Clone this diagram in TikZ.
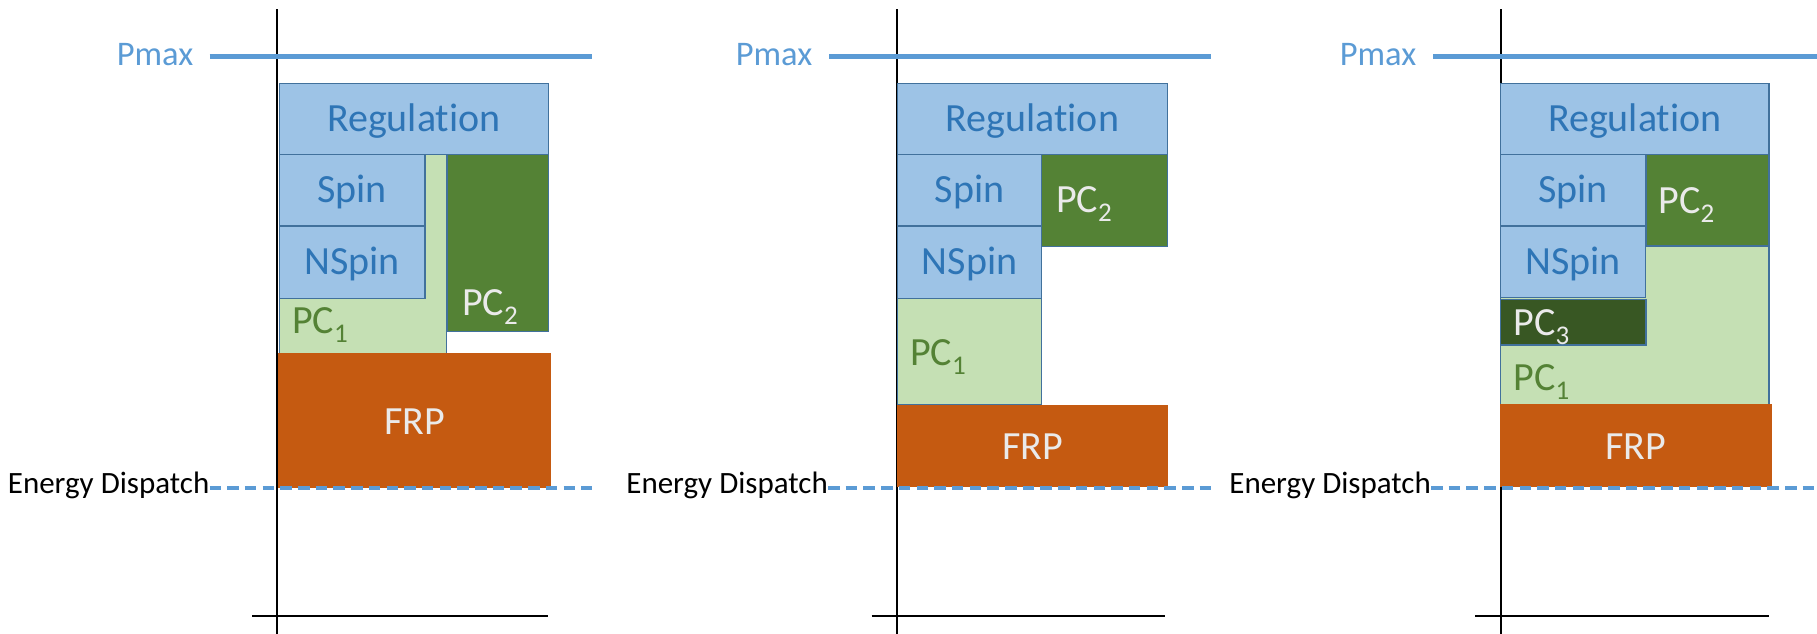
\documentclass[tikz,border=0pt]{standalone}
\usepackage{fontspec}
\setmainfont{Carlito}[Ligatures=NoCommon]
\definecolor{regfill}{HTML}{9DC3E6}
\definecolor{bordc}{HTML}{41719C}
\definecolor{bluetxt}{HTML}{2E75B6}
\definecolor{lgfill}{HTML}{C5E0B4}
\definecolor{dgfill}{HTML}{548235}
\definecolor{pcthree}{HTML}{385723}
\definecolor{frpfill}{HTML}{C55A11}
\definecolor{lighttxt}{HTML}{EAEAEA}
\definecolor{lineblue}{HTML}{5B9BD5}
\newcommand{\sbs}[1]{\raisebox{-0.22em}{\fontsize{27}{27}\selectfont #1}}
\begin{document}
\begin{tikzpicture}[x=1pt,y=-1pt,
  bluebox/.style={fill=regfill,draw=bordc,line width=1.3pt},
  lgbox/.style={fill=lgfill,draw=bordc,line width=1.3pt},
  dgbox/.style={fill=dgfill,draw=bordc,line width=1.3pt},
  pc3box/.style={fill=pcthree,draw=bordc,line width=1.3pt},
  frpbox/.style={fill=frpfill},
  lbl/.style={inner sep=0pt,font=\fontsize{40}{42}\selectfont},
  bluelbl/.style={lbl,text=bluetxt,anchor=base},
  lglbl/.style={lbl,text=dgfill,anchor=base west},
  dglbl/.style={lbl,text=lighttxt,anchor=base west},
  frplbl/.style={lbl,text=lighttxt,anchor=base},
  pmaxlbl/.style={inner sep=0pt,font=\fontsize{34.5}{36}\selectfont,text=lineblue,anchor=base east},
  edlbl/.style={inner sep=0pt,font=\fontsize{31}{33}\selectfont,text=black,anchor=base east},
  pmaxline/.style={draw=lineblue,line width=5pt},
  edline/.style={draw=lineblue,line width=3.8pt,dash pattern=on 11.5pt off 6.2pt},
  axisline/.style={draw=black,line width=1.8pt}]
\useasboundingbox (0,0) rectangle (1817,634);

% ---------------- Panel 1 (axis x = 277) ----------------
\coordinate (a1t) at (277,9.3);
\coordinate (a1b) at (277,634);
\coordinate (h1l) at (252,615.7);
\coordinate (h1r) at (548,615.7);
\draw[axisline] (a1t) -- (a1b);
\draw[axisline] (h1l) -- (h1r);
\coordinate (pm1l) at (209.5,56.7);
\coordinate (pm1r) at (592,56.7);
\draw[pmaxline] (pm1l) -- (pm1r);
\node[pmaxlbl] (pmax1) at (193.5,65.5) {Pmax};

\path[lgbox] (279.3,154.3) rectangle (446.7,353.3);
\path[dgbox] (447.7,154.3) rectangle (548.3,331.7);
\path[bluebox] (279.3,83.3) rectangle (548.3,154.3);
\path[bluebox] (279.3,154.3) rectangle (425,226);
\path[bluebox] (279.3,226) rectangle (425,298.3);
\path[frpbox] (278.3,352.7) rectangle (551,488.3);

\node[bluelbl] (reg1) at (413.8,131.5) {Regulation};
\node[bluelbl] (spin1) at (352.2,202.5) {Spin};
\node[bluelbl] (nspin1) at (352.2,274) {NSpin};
\node[lglbl] (pc11) at (292,333.5) {PC\sbs{1}};
\node[dglbl] (pc21) at (462,315.5) {PC\sbs{2}};
\node[frplbl] (frp1) at (414.7,434) {FRP};

\node[edlbl] (ed1) at (209.5,493.5) {Energy Dispatch};
\coordinate (ed1r) at (592,487.7);
\draw[edline] (ed1.base east |- ed1r) -- (ed1r);

% ---------------- Panel 2 (axis x = 896.7) ----------------
\coordinate (a2t) at (896.7,9.3);
\coordinate (a2b) at (896.7,634);
\coordinate (h2l) at (871.5,615.7);
\coordinate (h2r) at (1165,615.7);
\draw[axisline] (a2t) -- (a2b);
\draw[axisline] (h2l) -- (h2r);
\coordinate (pm2l) at (829,56.7);
\coordinate (pm2r) at (1211,56.7);
\draw[pmaxline] (pm2l) -- (pm2r);
\node[pmaxlbl] (pmax2) at (812.5,65.5) {Pmax};

\path[bluebox] (897.3,83.3) rectangle (1167.3,154.3);
\path[bluebox] (897.3,154.3) rectangle (1041.7,226);
\path[bluebox] (897.3,226) rectangle (1041.7,298.3);
\path[lgbox] (897.3,298.3) rectangle (1041.7,405);
\path[dgbox] (1041.7,154.3) rectangle (1167.3,246.7);
\path[frpbox] (897,405) rectangle (1168.3,486.7);

\node[bluelbl] (reg2) at (1032.3,131.5) {Regulation};
\node[bluelbl] (spin2) at (969.5,202.5) {Spin};
\node[bluelbl] (nspin2) at (969.5,274) {NSpin};
\node[lglbl] (pc12) at (910,365.5) {PC\sbs{1}};
\node[dglbl] (pc22) at (1056,212.5) {PC\sbs{2}};
\node[frplbl] (frp2) at (1032.7,459.8) {FRP};

\node[edlbl] (ed2) at (828,493.5) {Energy Dispatch};
\coordinate (ed2r) at (1211,487.7);
\draw[edline] (ed2.base east |- ed2r) -- (ed2r);

% ---------------- Panel 3 (axis x = 1500.7) ----------------
\coordinate (a3t) at (1500.7,9.3);
\coordinate (a3b) at (1500.7,634);
\coordinate (h3l) at (1475,615.7);
\coordinate (h3r) at (1769,615.7);
\draw[axisline] (a3t) -- (a3b);
\draw[axisline] (h3l) -- (h3r);
\coordinate (pm3l) at (1433,56.7);
\coordinate (pm3r) at (1817,56.7);
\draw[pmaxline] (pm3l) -- (pm3r);
\node[pmaxlbl] (pmax3) at (1416.5,65.5) {Pmax};

\path[lgbox] (1500.7,154.3) rectangle (1769,404.3);
\path[bluebox] (1500.7,83.3) rectangle (1769,154.3);
\path[bluebox] (1500.7,154.3) rectangle (1645.7,226);
\path[bluebox] (1500.7,226) rectangle (1645.7,297.3);
\path[pc3box] (1500.7,299.5) rectangle (1646,345);
\path[dgbox] (1646,154.3) rectangle (1769,246);
\path[frpbox] (1500,404.3) rectangle (1771.7,486.7);

\node[bluelbl] (reg3) at (1634.8,131.5) {Regulation};
\node[bluelbl] (spin3) at (1573.2,202.5) {Spin};
\node[bluelbl] (nspin3) at (1573.2,274) {NSpin};
\node[dglbl] (pc33) at (1513.5,335.5) {PC\sbs{3}};
\node[lglbl] (pc13) at (1513.5,390.5) {PC\sbs{1}};
\node[dglbl] (pc23) at (1658.5,213.8) {PC\sbs{2}};
\node[frplbl] (frp3) at (1635.8,459.8) {FRP};

\node[edlbl] (ed3) at (1431,493.5) {Energy Dispatch};
\coordinate (ed3r) at (1817,487.7);
\draw[edline] (ed3.base east |- ed3r) -- (ed3r);
\end{tikzpicture}
\end{document}
